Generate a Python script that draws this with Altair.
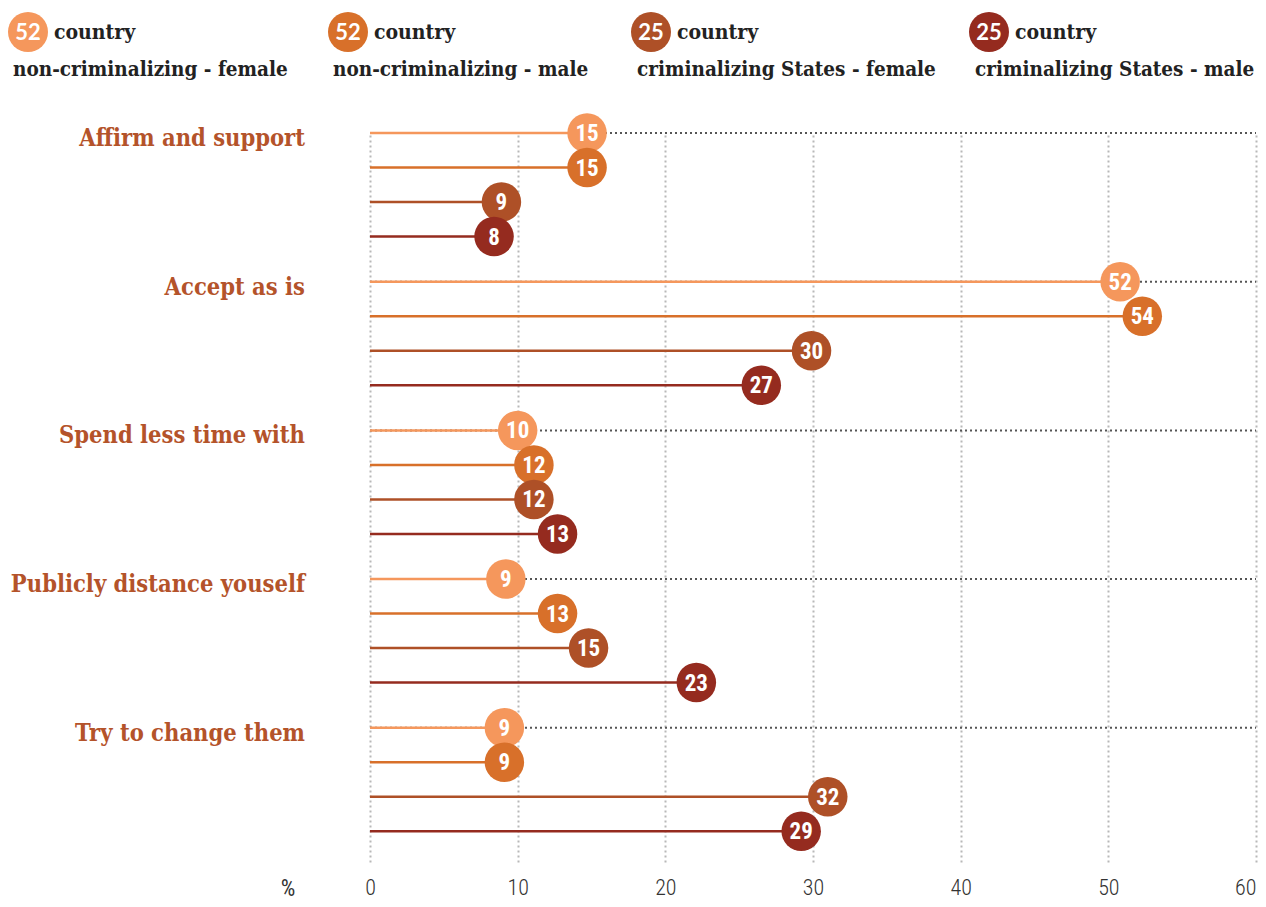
import altair as alt
import pandas as pd

# ---------------- data ----------------
categories = ["Affirm and support", "Accept as is", "Spend less time with",
              "Publicly distance youself", "Try to change them"]
series = ["non-criminalizing - female", "non-criminalizing - male",
          "criminalizing States - female", "criminalizing States - male"]
country_counts = [52, 52, 25, 25]

# positions (percent)
nc_female = [14.7, 50.8, 10.0, 9.2, 9.1]
nc_male = [14.7, 52.3, 11.1, 12.7, 9.1]
cr_female = [8.9, 29.9, 11.1, 14.8, 31.0]
cr_male = [8.4, 26.5, 12.7, 22.1, 29.2]

# labels printed in the circles
nc_female_lab = [15, 52, 10, 9, 9]
nc_male_lab = [15, 54, 12, 13, 9]
cr_female_lab = [9, 30, 12, 15, 32]
cr_male_lab = [8, 27, 13, 23, 29]

x_ticks = [0, 10, 20, 30, 40, 50, 60]

# ---------------- styling / layout ----------------
colors = ["#f5975c", "#d8702a", "#ae5027", "#952b1f"]
label_color = "#b4532a"
GROUP_STEP = 4.31
W, H = 886, 729
serif = "DejaVu Serif Condensed, DejaVu Serif, serif"
narrow = "Roboto Condensed, Liberation Sans Narrow, DejaVu Sans Condensed, sans-serif"

vals = [nc_female, nc_male, cr_female, cr_male]
labs = [nc_female_lab, nc_male_lab, cr_female_lab, cr_male_lab]
rows = []
for gi, cat in enumerate(categories):
    for si, s in enumerate(series):
        rows.append({"category": cat, "series": s, "order": si,
                     "value": vals[si][gi], "label": str(labs[si][gi]),
                     "pos": gi * GROUP_STEP + si, "start": 0})
df = pd.DataFrame(rows)
df_grp = pd.DataFrame({"category": categories,
                       "pos": [gi * GROUP_STEP for gi in range(len(categories))],
                       "start": 0, "end": 60})

# legend positions in plot pixel coordinates (plot origin at page x=370, y=133)
leg_circle_x = [28 - 370, 348 - 370, 651 - 370, 989 - 370]
leg_text_x = [13 - 370, 333 - 370, 637 - 370, 975 - 370]
df_leg = pd.DataFrame({"series": series, "count": [str(c) for c in country_counts],
                       "cx": leg_circle_x, "tx": leg_text_x,
                       "wx": [c + 26 for c in leg_circle_x],
                       "word": ["country"] * 4})

xscale = alt.Scale(domain=[0, 60], nice=False, zero=True)
yscale = alt.Scale(domain=[0, H / 34.5], reverse=True, nice=False, zero=True)
cscale = alt.Scale(domain=series, range=colors)

xenc = alt.X("value:Q", scale=xscale,
             axis=alt.Axis(values=x_ticks, grid=True, gridDash=[2, 3], gridColor="#b8b8b8",
                           gridWidth=2, domain=False, ticks=False, title=None,
                           labelFont=narrow, labelFontSize=22, labelFontWeight=300,
                           labelColor="#333333",
                           labelAlign={"condition": {"test": "datum.value == 60", "value": "right"},
                                       "value": "center"},
                           labelFlush=False, labelOverlap=False, labelBound=False,
                           labelPadding=15))
yenc = alt.Y("pos:Q", scale=yscale, axis=None)

grp_lines = alt.Chart(df_grp).mark_rule(strokeDash=[2, 3], color="#555555", strokeWidth=2).encode(
    x=alt.X("start:Q", scale=xscale), x2="end:Q", y=alt.Y("pos:Q", scale=yscale, axis=None))

stems = alt.Chart(df).mark_rule(strokeWidth=2.5).encode(
    x=xenc, x2="start:Q", y=yenc,
    color=alt.Color("series:N", scale=cscale, legend=None))

circles = alt.Chart(df).mark_circle(size=1560, opacity=1).encode(
    x="value:Q", y=yenc, color=alt.Color("series:N", scale=cscale, legend=None))

texts = alt.Chart(df).mark_text(color="white", font=narrow, fontWeight="bold",
                                fontSize=23, baseline="middle", dy=1).encode(
    x="value:Q", y=yenc, text="label:N")

cat_labels = alt.Chart(df_grp).mark_text(align="right", baseline="middle", dy=6,
                                         font=serif, fontWeight="bold", fontSize=23.5,
                                         color=label_color).encode(
    x=alt.value(-65), y=alt.Y("pos:Q", scale=yscale, axis=None), text="category:N")

leg_circ = alt.Chart(df_leg).mark_circle(size=1600, opacity=1).encode(
    x=alt.X("cx:Q", scale=None), y=alt.value(32 - 133),
    color=alt.Color("series:N", scale=cscale, legend=None))
leg_num = alt.Chart(df_leg).mark_text(color="white", font="Lato, Open Sans, sans-serif",
                                      fontWeight="bold", fontSize=22, baseline="middle", dy=1).encode(
    x=alt.X("cx:Q", scale=None), y=alt.value(32 - 133), text="count:N")
leg_word = alt.Chart(df_leg).mark_text(align="left", baseline="middle", font=serif,
                                       fontWeight="bold", fontSize=21, color="#222222", dy=1).encode(
    x=alt.X("wx:Q", scale=None), y=alt.value(32 - 133), text="word:N")
leg_name = alt.Chart(df_leg).mark_text(align="left", baseline="middle", font=serif,
                                       fontWeight="bold", fontSize=20.5, color="#222222").encode(
    x=alt.X("tx:Q", scale=None), y=alt.value(70 - 133), text="series:N")

pct = alt.Chart(df_grp.head(1)).mark_text(text="%", font=narrow, fontSize=23,
                                          color="#333333", baseline="middle").encode(
    x=alt.value(288 - 370), y=alt.value(889 - 133))

chart = alt.layer(grp_lines, stems, circles, texts, cat_labels,
                  leg_circ, leg_num, leg_word, leg_name, pct).properties(
    width=W, height=H,
    autosize=alt.AutoSizeParams(type="none"),
    padding={"left": 362, "top": 125, "right": 2, "bottom": 40},
    background="white",
).configure_view(stroke=None)

chart.save("out.html", embed_options={"renderer": "svg", "actions": False})
